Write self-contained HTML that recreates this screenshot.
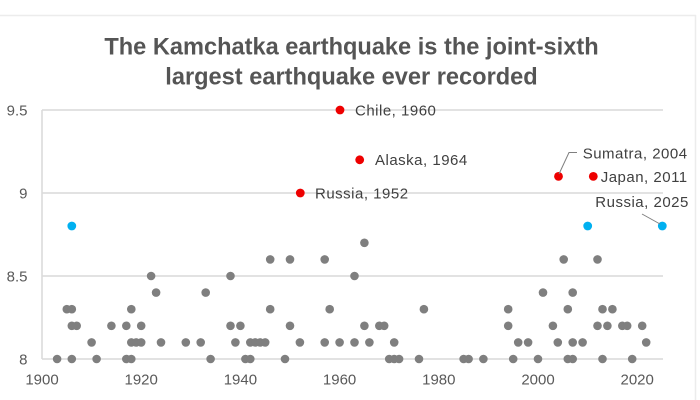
<!DOCTYPE html>
<html>
<head>
<meta charset="utf-8">
<style>
html,body{margin:0;padding:0;background:#fff;}
svg{display:block;}
text{font-family:"Liberation Sans",sans-serif;}
</style>
</head>
<body>
<svg width="700" height="400" viewBox="0 0 700 400" xmlns="http://www.w3.org/2000/svg">
<rect x="0" y="0" width="700" height="400" fill="#fff"/>
<line x1="0" y1="15.5" x2="696" y2="15.5" stroke="#ececec" stroke-width="1.5"/>
<line x1="695.5" y1="15" x2="695.5" y2="400" stroke="#ececec" stroke-width="1.5"/>

<text x="351.5" y="54.5" text-anchor="middle" font-size="23.6" font-weight="bold" fill="#555555">The Kamchatka earthquake is the joint-sixth</text>
<text x="351.5" y="84.5" text-anchor="middle" font-size="23.6" font-weight="bold" fill="#555555">largest earthquake ever recorded</text>

<!-- gridlines -->
<g stroke="#d9d9d9" stroke-width="1.5">
<line x1="42" y1="110" x2="663" y2="110"/>
<line x1="42" y1="193" x2="663" y2="193"/>
<line x1="42" y1="276" x2="663" y2="276"/>
<line x1="42" y1="359" x2="663" y2="359"/>
<line x1="42" y1="110" x2="42" y2="359"/>
</g>

<!-- y labels -->
<g font-size="15" fill="#595959" text-anchor="end">
<text x="27.5" y="115.3">9.5</text>
<text x="27.5" y="198.3">9</text>
<text x="27.5" y="281.3">8.5</text>
<text x="27.5" y="364.3">8</text>
</g>
<!-- x labels -->
<g font-size="15" fill="#595959" text-anchor="middle">
<text x="42" y="384.5">1900</text>
<text x="141.2" y="384.5">1920</text>
<text x="240.4" y="384.5">1940</text>
<text x="339.6" y="384.5">1960</text>
<text x="438.8" y="384.5">1980</text>
<text x="538" y="384.5">2000</text>
<text x="637.2" y="384.5">2020</text>
</g>

<!-- gray points -->
<g fill="#7f7f7f">
<!-- 8.0 y=359 -->
<circle cx="57.1" cy="359" r="4.3"/><circle cx="71.8" cy="359" r="4.3"/><circle cx="96.6" cy="359" r="4.3"/><circle cx="126.3" cy="359" r="4.3"/><circle cx="131.3" cy="359" r="4.3"/><circle cx="210.6" cy="359" r="4.3"/><circle cx="245.4" cy="359" r="4.3"/><circle cx="250.3" cy="359" r="4.3"/><circle cx="285" cy="359" r="4.3"/><circle cx="389.2" cy="359" r="4.3"/><circle cx="394.2" cy="359" r="4.3"/><circle cx="399.1" cy="359" r="4.3"/><circle cx="419" cy="359" r="4.3"/><circle cx="463.6" cy="359" r="4.3"/><circle cx="468.6" cy="359" r="4.3"/><circle cx="483.4" cy="359" r="4.3"/><circle cx="513.2" cy="359" r="4.3"/><circle cx="538" cy="359" r="4.3"/><circle cx="567.8" cy="359" r="4.3"/><circle cx="572.7" cy="359" r="4.3"/><circle cx="602.5" cy="359" r="4.3"/><circle cx="632.2" cy="359" r="4.3"/>
<!-- 8.1 y=342.4 -->
<circle cx="91.6" cy="342.4" r="4.3"/><circle cx="131.3" cy="342.4" r="4.3"/><circle cx="136.2" cy="342.4" r="4.3"/><circle cx="141.2" cy="342.4" r="4.3"/><circle cx="161" cy="342.4" r="4.3"/><circle cx="185.8" cy="342.4" r="4.3"/><circle cx="200.7" cy="342.4" r="4.3"/><circle cx="235.4" cy="342.4" r="4.3"/><circle cx="250.3" cy="342.4" r="4.3"/><circle cx="255.3" cy="342.4" r="4.3"/><circle cx="260.2" cy="342.4" r="4.3"/><circle cx="265.2" cy="342.4" r="4.3"/><circle cx="299.9" cy="342.4" r="4.3"/><circle cx="324.7" cy="342.4" r="4.3"/><circle cx="339.6" cy="342.4" r="4.3"/><circle cx="354.5" cy="342.4" r="4.3"/><circle cx="369.4" cy="342.4" r="4.3"/><circle cx="394.2" cy="342.4" r="4.3"/><circle cx="518.2" cy="342.4" r="4.3"/><circle cx="528.1" cy="342.4" r="4.3"/><circle cx="557.8" cy="342.4" r="4.3"/><circle cx="572.7" cy="342.4" r="4.3"/><circle cx="582.6" cy="342.4" r="4.3"/><circle cx="646.2" cy="342.4" r="4.3"/>
<!-- 8.2 y=325.8 -->
<circle cx="71.8" cy="325.8" r="4.3"/><circle cx="76.7" cy="325.8" r="4.3"/><circle cx="111.4" cy="325.8" r="4.3"/><circle cx="126.3" cy="325.8" r="4.3"/><circle cx="141.2" cy="325.8" r="4.3"/><circle cx="230.5" cy="325.8" r="4.3"/><circle cx="240.4" cy="325.8" r="4.3"/><circle cx="290" cy="325.8" r="4.3"/><circle cx="364.4" cy="325.8" r="4.3"/><circle cx="379.3" cy="325.8" r="4.3"/><circle cx="384.2" cy="325.8" r="4.3"/><circle cx="508.2" cy="325.8" r="4.3"/><circle cx="552.9" cy="325.8" r="4.3"/><circle cx="597.5" cy="325.8" r="4.3"/><circle cx="607.4" cy="325.8" r="4.3"/><circle cx="622.3" cy="325.8" r="4.3"/><circle cx="627.2" cy="325.8" r="4.3"/><circle cx="642.2" cy="325.8" r="4.3"/>
<!-- 8.3 y=309.2 -->
<circle cx="66.8" cy="309.2" r="4.3"/><circle cx="71.8" cy="309.2" r="4.3"/><circle cx="131.3" cy="309.2" r="4.3"/><circle cx="270.2" cy="309.2" r="4.3"/><circle cx="329.7" cy="309.2" r="4.3"/><circle cx="423.9" cy="309.2" r="4.3"/><circle cx="508.2" cy="309.2" r="4.3"/><circle cx="567.8" cy="309.2" r="4.3"/><circle cx="602.5" cy="309.2" r="4.3"/><circle cx="612.4" cy="309.2" r="4.3"/>
<!-- 8.4 y=292.6 -->
<circle cx="156.1" cy="292.6" r="4.3"/><circle cx="205.7" cy="292.6" r="4.3"/><circle cx="543" cy="292.6" r="4.3"/><circle cx="572.7" cy="292.6" r="4.3"/>
<!-- 8.5 y=276 -->
<circle cx="151.1" cy="276" r="4.3"/><circle cx="230.5" cy="276" r="4.3"/><circle cx="354.5" cy="276" r="4.3"/>
<!-- 8.6 y=259.4 -->
<circle cx="270.2" cy="259.4" r="4.3"/><circle cx="290" cy="259.4" r="4.3"/><circle cx="324.7" cy="259.4" r="4.3"/><circle cx="563.7" cy="259.4" r="4.3"/><circle cx="597.5" cy="259.4" r="4.3"/>
<!-- 8.7 -->
<circle cx="364.4" cy="242.8" r="4.3"/>
</g>

<!-- blue points -->
<g fill="#00b0f0">
<circle cx="71.8" cy="226" r="4.4"/>
<circle cx="587.7" cy="226" r="4.4"/>
<circle cx="662.3" cy="226" r="4.4"/>
</g>

<!-- red points -->
<g fill="#ee0000">
<circle cx="340" cy="110" r="4.4"/>
<circle cx="359.7" cy="159.8" r="4.4"/>
<circle cx="300.3" cy="193" r="4.4"/>
<circle cx="558.5" cy="176.4" r="4.4"/>
<circle cx="593.3" cy="176.4" r="4.4"/>
</g>

<!-- leader lines -->
<g stroke="#7f7f7f" stroke-width="1" fill="none">
<polyline points="559,174 569,152.5 577,152.5"/>
<line x1="642" y1="214" x2="660" y2="224"/>
</g>

<!-- labels -->
<g font-size="15" fill="#404040" letter-spacing="0.5">
<text x="355" y="115.4">Chile, 1960</text>
<text x="375" y="165.1">Alaska, 1964</text>
<text x="315" y="198.4">Russia, 1952</text>
<text x="582.7" y="158.4">Sumatra, 2004</text>
<text x="600.7" y="182">Japan, 2011</text>
<text x="595.3" y="207">Russia, 2025</text>
</g>
</svg>
</body>
</html>
